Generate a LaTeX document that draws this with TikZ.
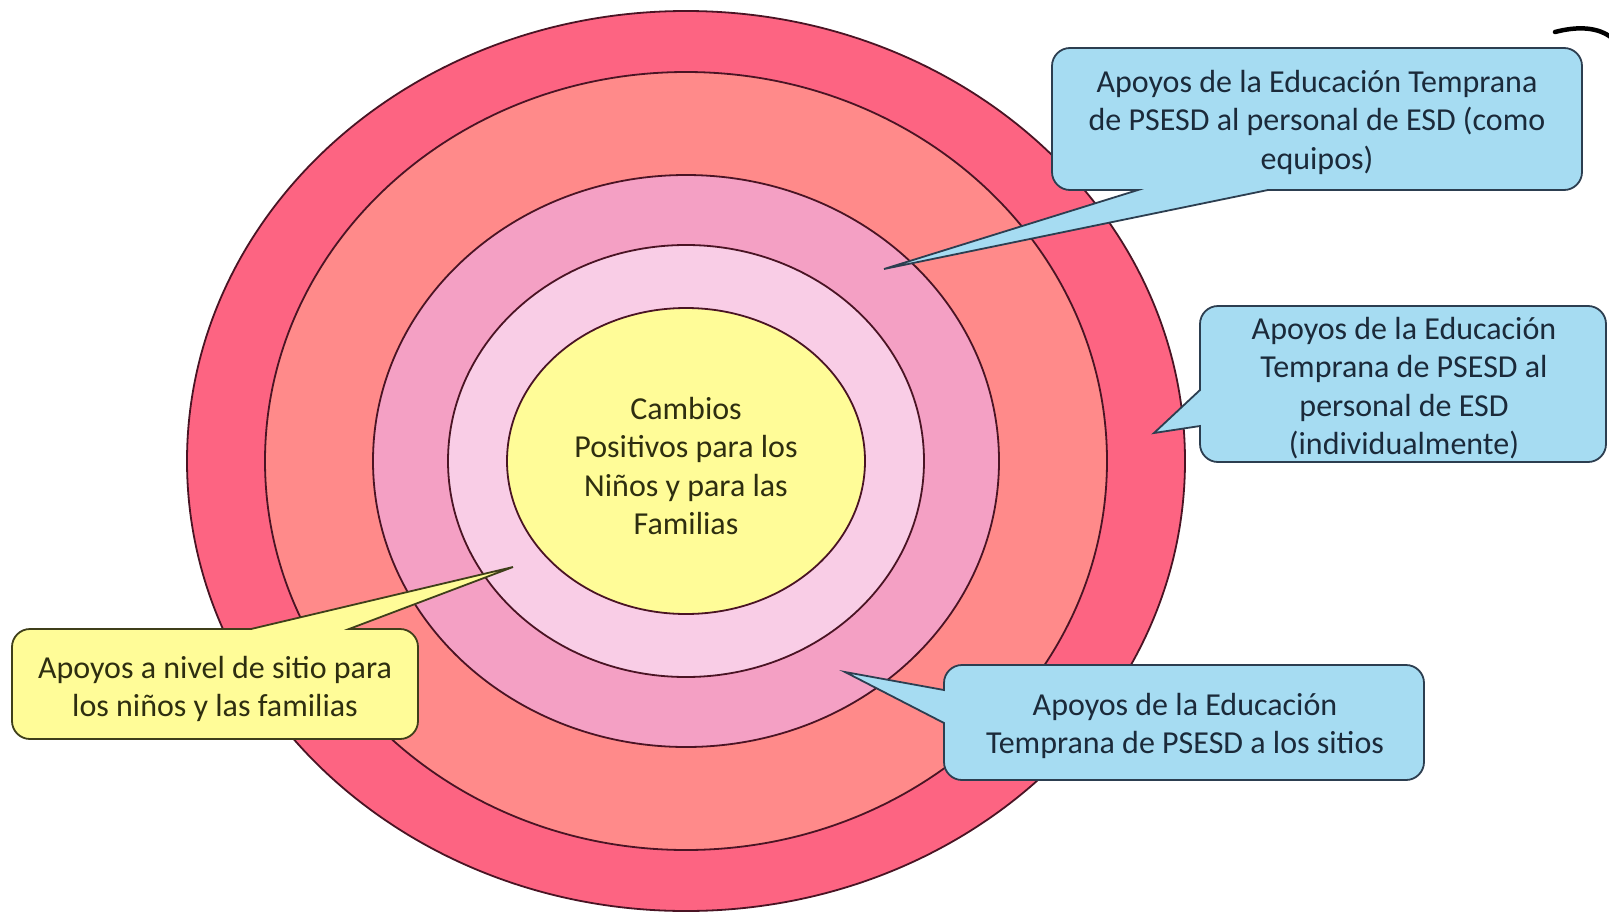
\documentclass[tikz,border=0pt]{standalone}
\usepackage{fontspec}
\setmainfont{Carlito}
\definecolor{ringA}{HTML}{FD6482}
\definecolor{ringB}{HTML}{FF8A8A}
\definecolor{ringC}{HTML}{F4A0C4}
\definecolor{ringD}{HTML}{F9CDE6}
\definecolor{core}{HTML}{FFFC98}
\definecolor{ringline}{HTML}{4A1424}
\definecolor{callblue}{HTML}{A6DCF2}
\definecolor{callblueline}{HTML}{2C3E50}
\definecolor{callyellow}{HTML}{FFFC98}
\definecolor{callyellowline}{HTML}{3F3F1A}
\definecolor{textblue}{HTML}{1B2A3A}
\definecolor{textolive}{HTML}{2E2E10}
\begin{document}
\begin{tikzpicture}[x=1pt,y=-1pt,
  ring/.style={draw=ringline, line width=1.8pt},
  bluecall/.style={fill=callblue, draw=callblueline, line width=1.8pt},
  yellowcall/.style={fill=callyellow, draw=callyellowline, line width=1.8pt},
  lbl/.style={align=center, font=\fontsize{32}{38.5}\selectfont, text=textblue, inner sep=0pt},
  olbl/.style={lbl, text=textolive},
]
\fill[white] (0,0) rectangle (1609,913);
\useasboundingbox (0,0) rectangle (1609,913);
% concentric rings
\coordinate (c) at (686,461);
\draw[ring, fill=ringA] (c) ellipse [x radius=499, y radius=450];
\draw[ring, fill=ringB] (c) ellipse [x radius=421, y radius=389];
\draw[ring, fill=ringC] (c) ellipse [x radius=313, y radius=286];
\draw[ring, fill=ringD] (c) ellipse [x radius=238, y radius=216];
\draw[ring, fill=core] (c) ellipse [x radius=179, y radius=153];
\node[olbl] (t0) at (686,466) {Cambios\\Positivos para los\\Niños y para las\\Familias};
% callout 1 (top right)
\draw[bluecall] (1052,120) [rounded corners=18pt] -- (1052,48) -- (1582,48) -- (1582,190) [sharp corners] -- (1268,190) -- (884,269) -- (1138,190) [rounded corners=18pt] -- (1052,190) -- cycle;
\node[lbl] (t1) at (1317,122) {Apoyos de la Educación Temprana\\de PSESD al personal de ESD (como\\equipos)};
% callout 2 (right)
\draw[bluecall] (1400,306) [rounded corners=18pt] -- (1606,306) -- (1606,462) -- (1200,462) [sharp corners] -- (1200,426) -- (1154,433) -- (1200,390) [rounded corners=18pt] -- (1200,306) -- cycle;
\node[lbl] (t2) at (1404,388) {Apoyos de la Educación\\Temprana de PSESD al\\personal de ESD\\(individualmente)};
% callout 3 (left, yellow)
\draw[yellowcall] (12,690) [rounded corners=18pt] -- (12,629) [sharp corners] -- (251,629) -- (513,567) -- (349,629) [rounded corners=18pt] -- (418,629) -- (418,739) -- (12,739) -- cycle;
\node[olbl] (t3) at (215,689) {Apoyos a nivel de sitio para\\los niños y las familias};
% callout 4 (bottom)
\draw[bluecall] (1180,665) [rounded corners=18pt] -- (1424,665) -- (1424,780) -- (944,780) [sharp corners] -- (944,723) -- (845,672) -- (944,690) [rounded corners=18pt] -- (944,665) -- cycle;
\node[lbl] (t4) at (1185,726) {Apoyos de la Educación\\Temprana de PSESD a los sitios};
% stray stroke top right
\draw[line width=4.5pt, line cap=round] (1555,32) .. controls (1578,26) and (1598,27) .. (1612,38);
\end{tikzpicture}
\end{document}
